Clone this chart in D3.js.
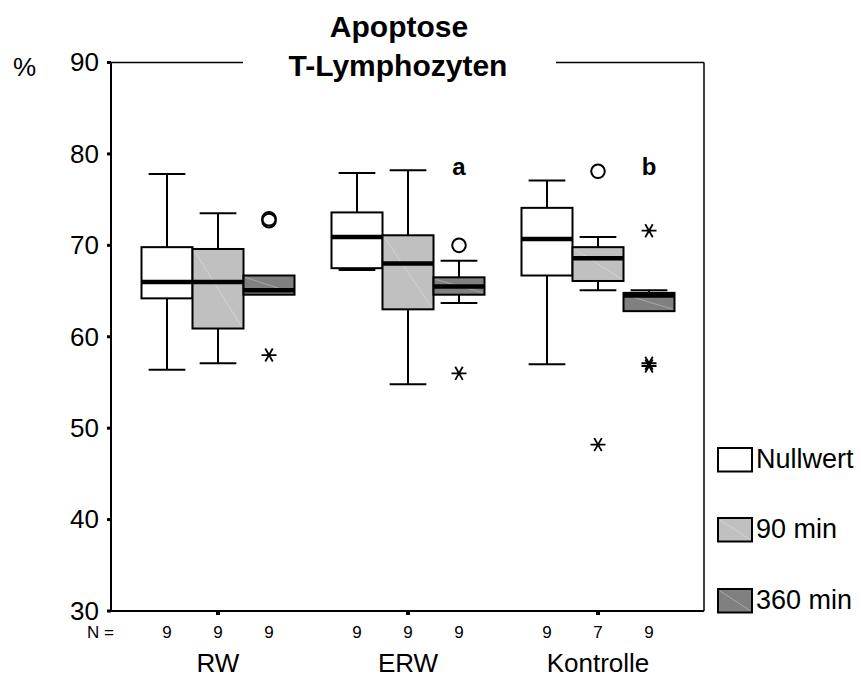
<!DOCTYPE html>
<html><head><meta charset="utf-8">
<script src="https://cdn.jsdelivr.net/npm/d3@7"></script>
<style>body{margin:0;background:#fff}svg{display:block;font-family:"Liberation Sans",Arial,sans-serif}</style>
</head><body><svg id="c" width="861" height="678"></svg>
<script>
const groups = ["RW", "ERW", "Kontrolle"];
const series = ["Nullwert", "90 min", "360 min"];
const seriesColors = ["#ffffff", "#c0c0c0", "#808080"];
const yTicks = [30, 40, 50, 60, 70, 80, 90];
// per series: for each group [lowerWhisker, q1, median, q3, upperWhisker]
const nullwertStats = [[56.4, 64.2, 66.0, 69.8, 77.8], [67.3, 67.5, 70.9, 73.6, 77.9], [57.0, 66.7, 70.7, 74.1, 77.1]];
const min90Stats = [[57.1, 60.9, 66.0, 69.6, 73.5], [54.8, 63.0, 68.0, 71.1, 78.2], [65.1, 66.1, 68.6, 69.8, 70.9]];
const min360Stats = [[64.6, 64.6, 65.1, 66.7, 66.7], [63.7, 64.6, 65.5, 66.5, 68.3], [62.8, 62.8, 64.5, 64.8, 65.1]];
// N per group, per series
const nNullwert = [9, 9, 9];
const n90 = [9, 9, 7];
const n360 = [9, 9, 9];
// outliers: [groupIndex, seriesIndex, value, type]  (o = outlier, * = extreme)
const outliers = [
  [0, 2, 72.7, "o"], [0, 2, 72.9, "o"], [0, 2, 58.0, "*"],
  [1, 2, 70.0, "o"], [1, 2, 56.0, "*"],
  [2, 1, 78.1, "o"], [2, 1, 48.2, "*"],
  [2, 2, 71.6, "*"], [2, 2, 57.1, "*"], [2, 2, 56.8, "*"]
];
const sigLabels = [[1, 2, "a"], [2, 2, "b"]];

const allStats = [nullwertStats, min90Stats, min360Stats];
const allN = [nNullwert, n90, n360];

const svg = d3.select("#c");
const L = 111, R = 704, T = 62.5, B = 611;
const y = d3.scaleLinear().domain([30, 90]).range([B, T]);
const xg = d3.scaleBand().domain(groups).range([123, 693]);
const xs = d3.scaleBand().domain(series).range([-76.5, 76.5]);
const cx = (gi, si) => xg(groups[gi]) + xg.bandwidth() / 2 + xs(series[si]) + xs.bandwidth() / 2;
const bw = xs.bandwidth();

// frame
const f = svg.append("g").attr("stroke", "#000").attr("stroke-width", 2).attr("fill", "none");
f.append("line").attr("x1", L).attr("x2", L).attr("y1", T).attr("y2", B);
f.append("line").attr("x1", L).attr("x2", R).attr("y1", B).attr("y2", B);
f.append("line").attr("x1", R).attr("x2", R).attr("y1", T).attr("y2", B).attr("stroke-width", 1.5);
f.append("line").attr("x1", L).attr("x2", 243).attr("y1", T).attr("y2", T).attr("stroke-width", 1.5);
f.append("line").attr("x1", 556).attr("x2", R).attr("y1", T).attr("y2", T).attr("stroke-width", 1.5);

// y axis ticks
const yAxis = d3.axisLeft(y).tickValues(yTicks).tickSize(0).tickPadding(12);
const ya = svg.append("g").attr("transform", `translate(${L},0)`).call(yAxis);
ya.select(".domain").remove();
ya.selectAll("text").attr("font-size", 26).attr("font-family", "Liberation Sans, Arial, sans-serif").attr("fill", "#000");
svg.selectAll(".ytm").data(yTicks).join("rect").attr("x", L - 4).attr("y", d => y(d) - 1.5).attr("width", 4).attr("height", 3).attr("fill", "#000");
svg.append("text").attr("x", 13).attr("y", 76).attr("font-size", 26).text("%");

// x ticks
svg.selectAll(".xtm").data(groups).join("rect").attr("x", d => xg(d) + xg.bandwidth() / 2 - 2).attr("y", B).attr("width", 4).attr("height", 4).attr("fill", "#000");
svg.selectAll(".xl").data(groups).join("text").attr("x", d => xg(d) + xg.bandwidth() / 2).attr("y", 672)
  .attr("text-anchor", "middle").attr("font-size", 26).text(d => d);

// N labels
svg.append("text").attr("x", 87).attr("y", 638).attr("font-size", 17).text("N =");
groups.forEach((g, gi) => series.forEach((s, si) => {
  svg.append("text").attr("x", cx(gi, si)).attr("y", 638).attr("text-anchor", "middle").attr("font-size", 17).text(allN[si][gi]);
}));

// boxes
groups.forEach((g, gi) => series.forEach((s, si) => {
  const [lo, q1, md, q3, hi] = allStats[si][gi];
  const c = cx(gi, si), x0 = c - bw / 2;
  const gg = svg.append("g").attr("stroke", "#000");
  const cap = bw * 0.36;
  if (hi > q3) {
    gg.append("line").attr("x1", c).attr("x2", c).attr("y1", y(q3)).attr("y2", y(hi)).attr("stroke-width", 2);
    gg.append("line").attr("x1", c - cap).attr("x2", c + cap).attr("y1", y(hi)).attr("y2", y(hi)).attr("stroke-width", 2);
  }
  if (lo < q1) {
    gg.append("line").attr("x1", c).attr("x2", c).attr("y1", y(q1)).attr("y2", y(lo)).attr("stroke-width", 2);
    gg.append("line").attr("x1", c - cap).attr("x2", c + cap).attr("y1", y(lo)).attr("y2", y(lo)).attr("stroke-width", 2);
  }
  gg.append("rect").attr("x", x0).attr("y", y(q3)).attr("width", bw).attr("height", y(q1) - y(q3))
    .attr("fill", seriesColors[si]).attr("stroke-width", 2);
  if (si > 0) {
    gg.append("line").attr("x1", x0 + 2).attr("y1", y(q3) + 2).attr("x2", x0 + bw - 2).attr("y2", y(q1) - 2)
      .attr("stroke", "#fff").attr("stroke-opacity", 0.3).attr("stroke-width", 1);
  }
  gg.append("line").attr("x1", x0).attr("x2", x0 + bw).attr("y1", y(md)).attr("y2", y(md)).attr("stroke-width", 4.5);
}));

// outliers
const star = (s) => `M${-s},0L${s},0M${-s / 2},${-s * 0.87}L${s / 2},${s * 0.87}M${-s / 2},${s * 0.87}L${s / 2},${-s * 0.87}`;
outliers.forEach(([gi, si, v, t]) => {
  const c = cx(gi, si);
  if (t === "o") {
    svg.append("circle").attr("cx", c).attr("cy", y(v)).attr("r", 6.8).attr("fill", "none").attr("stroke", "#000").attr("stroke-width", 2);
  } else {
    svg.append("path").attr("d", star(7.5)).attr("transform", `translate(${c},${y(v)})`).attr("stroke", "#000").attr("stroke-width", 1.8).attr("fill", "none");
  }
});

// significance labels
sigLabels.forEach(([gi, si, t]) => {
  svg.append("text").attr("x", cx(gi, si)).attr("y", 175).attr("text-anchor", "middle").attr("font-size", 24).attr("font-weight", "bold").text(t);
});

// title
svg.append("text").attr("x", 399).attr("y", 37).attr("text-anchor", "middle").attr("font-size", 30).attr("font-weight", "bold").text("Apoptose");
svg.append("text").attr("x", 398).attr("y", 76).attr("text-anchor", "middle").attr("font-size", 30).attr("font-weight", "bold").text("T-Lymphozyten");

// legend
const legY = [448, 518, 589];
const leg = svg.append("g");
series.forEach((s, si) => {
  leg.append("rect").attr("x", 718).attr("y", legY[si]).attr("width", 34).attr("height", 23.5).attr("fill", seriesColors[si]).attr("stroke", "#000").attr("stroke-width", 2);
  if (si > 0) leg.append("line").attr("x1", 720).attr("y1", legY[si] + 2).attr("x2", 750).attr("y2", legY[si] + 21.5).attr("stroke", "#fff").attr("stroke-opacity", 0.3);
  leg.append("text").attr("x", 756).attr("y", legY[si] + 20).attr("font-size", 27).text(s);
});
</script></body></html>
